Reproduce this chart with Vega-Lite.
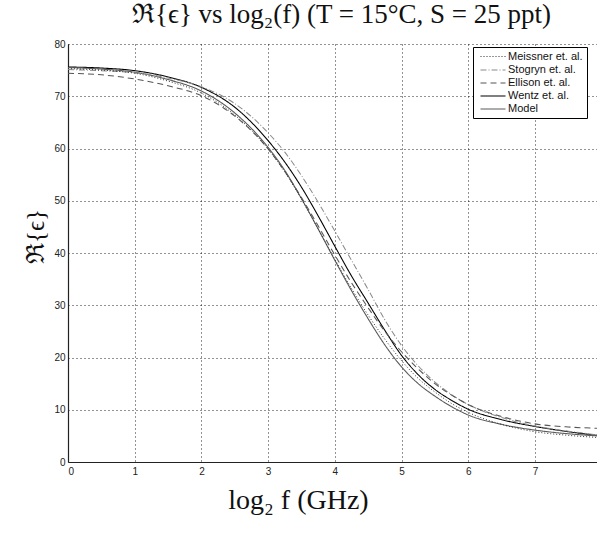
{
  "$schema": "https://vega.github.io/schema/vega-lite/v6.json",
  "autosize": {"type": "none"},
  "padding": {"left": 68, "top": 44, "right": 0, "bottom": 72},
  "width": 529,
  "height": 418,
  "background": "white",
  "title": {
    "text": "ℜ{ϵ} vs log₂(f) (T = 15°C, S = 25 ppt)",
    "font": "Liberation Serif",
    "fontSize": 27,
    "fontWeight": "normal",
    "color": "#111",
    "anchor": "middle",
    "offset": 10,
    "dx": 9
  },
  "config": {
    "view": {"stroke": null},
    "axis": {
      "labelFont": "Liberation Sans",
      "labelFontSize": 10,
      "labelColor": "#222",
      "ticks": false,
      "domainColor": "#222",
      "domainWidth": 1.2,
      "grid": true,
      "gridColor": "#000",
      "gridDash": [1, 3],
      "gridWidth": 1,
      "gridOpacity": 0.85,
      "titleFont": "Liberation Serif",
      "titleFontWeight": "normal",
      "titleColor": "#111"
    }
  },
  "data": {
    "values": [
      {"x": 0, "y": 75.6, "s": "Wentz et. al."},
      {"x": 0.5, "y": 75.4, "s": "Wentz et. al."},
      {"x": 1, "y": 74.9, "s": "Wentz et. al."},
      {"x": 1.5, "y": 73.7, "s": "Wentz et. al."},
      {"x": 2, "y": 71.7, "s": "Wentz et. al."},
      {"x": 2.5, "y": 67.9, "s": "Wentz et. al."},
      {"x": 3, "y": 61.5, "s": "Wentz et. al."},
      {"x": 3.25, "y": 57.4, "s": "Wentz et. al."},
      {"x": 3.5, "y": 52.6, "s": "Wentz et. al."},
      {"x": 3.75, "y": 47.1, "s": "Wentz et. al."},
      {"x": 4, "y": 41.3, "s": "Wentz et. al."},
      {"x": 4.25, "y": 35.6, "s": "Wentz et. al."},
      {"x": 4.5, "y": 30.4, "s": "Wentz et. al."},
      {"x": 4.75, "y": 25.2, "s": "Wentz et. al."},
      {"x": 5, "y": 20.4, "s": "Wentz et. al."},
      {"x": 5.25, "y": 16.7, "s": "Wentz et. al."},
      {"x": 5.5, "y": 13.9, "s": "Wentz et. al."},
      {"x": 5.75, "y": 11.8, "s": "Wentz et. al."},
      {"x": 6, "y": 10.1, "s": "Wentz et. al."},
      {"x": 6.5, "y": 8.1, "s": "Wentz et. al."},
      {"x": 7, "y": 6.8, "s": "Wentz et. al."},
      {"x": 7.5, "y": 5.8, "s": "Wentz et. al."},
      {"x": 7.93, "y": 5.1, "s": "Wentz et. al."},

      {"x": 0, "y": 75.5, "s": "Model"},
      {"x": 0.5, "y": 75.2, "s": "Model"},
      {"x": 1, "y": 74.6, "s": "Model"},
      {"x": 1.5, "y": 73.2, "s": "Model"},
      {"x": 2, "y": 71.0, "s": "Model"},
      {"x": 2.5, "y": 66.8, "s": "Model"},
      {"x": 3, "y": 60.2, "s": "Model"},
      {"x": 3.25, "y": 55.8, "s": "Model"},
      {"x": 3.5, "y": 50.4, "s": "Model"},
      {"x": 3.75, "y": 44.6, "s": "Model"},
      {"x": 4, "y": 38.6, "s": "Model"},
      {"x": 4.25, "y": 32.8, "s": "Model"},
      {"x": 4.5, "y": 27.4, "s": "Model"},
      {"x": 4.75, "y": 22.4, "s": "Model"},
      {"x": 5, "y": 18.2, "s": "Model"},
      {"x": 5.25, "y": 15.0, "s": "Model"},
      {"x": 5.5, "y": 12.6, "s": "Model"},
      {"x": 5.75, "y": 10.6, "s": "Model"},
      {"x": 6, "y": 9.0, "s": "Model"},
      {"x": 6.5, "y": 7.2, "s": "Model"},
      {"x": 7, "y": 6.1, "s": "Model"},
      {"x": 7.5, "y": 5.4, "s": "Model"},
      {"x": 7.93, "y": 5.0, "s": "Model"},

      {"x": 0, "y": 75.1, "s": "Stogryn et. al."},
      {"x": 0.5, "y": 74.9, "s": "Stogryn et. al."},
      {"x": 1, "y": 74.5, "s": "Stogryn et. al."},
      {"x": 1.5, "y": 73.5, "s": "Stogryn et. al."},
      {"x": 2, "y": 71.8, "s": "Stogryn et. al."},
      {"x": 2.5, "y": 68.6, "s": "Stogryn et. al."},
      {"x": 3, "y": 63.0, "s": "Stogryn et. al."},
      {"x": 3.25, "y": 59.3, "s": "Stogryn et. al."},
      {"x": 3.5, "y": 54.8, "s": "Stogryn et. al."},
      {"x": 3.75, "y": 49.7, "s": "Stogryn et. al."},
      {"x": 4, "y": 44.2, "s": "Stogryn et. al."},
      {"x": 4.25, "y": 38.6, "s": "Stogryn et. al."},
      {"x": 4.5, "y": 33.0, "s": "Stogryn et. al."},
      {"x": 4.75, "y": 27.2, "s": "Stogryn et. al."},
      {"x": 5, "y": 22.3, "s": "Stogryn et. al."},
      {"x": 5.25, "y": 18.4, "s": "Stogryn et. al."},
      {"x": 5.5, "y": 15.3, "s": "Stogryn et. al."},
      {"x": 5.75, "y": 12.9, "s": "Stogryn et. al."},
      {"x": 6, "y": 11.0, "s": "Stogryn et. al."},
      {"x": 6.5, "y": 8.5, "s": "Stogryn et. al."},
      {"x": 7, "y": 6.9, "s": "Stogryn et. al."},
      {"x": 7.5, "y": 5.9, "s": "Stogryn et. al."},
      {"x": 7.93, "y": 5.2, "s": "Stogryn et. al."},

      {"x": 0, "y": 74.4, "s": "Ellison et. al."},
      {"x": 0.5, "y": 74.1, "s": "Ellison et. al."},
      {"x": 1, "y": 73.3, "s": "Ellison et. al."},
      {"x": 1.5, "y": 72.0, "s": "Ellison et. al."},
      {"x": 2, "y": 70.1, "s": "Ellison et. al."},
      {"x": 2.5, "y": 66.2, "s": "Ellison et. al."},
      {"x": 3, "y": 59.9, "s": "Ellison et. al."},
      {"x": 3.25, "y": 55.6, "s": "Ellison et. al."},
      {"x": 3.5, "y": 50.6, "s": "Ellison et. al."},
      {"x": 3.75, "y": 45.2, "s": "Ellison et. al."},
      {"x": 4, "y": 39.6, "s": "Ellison et. al."},
      {"x": 4.25, "y": 34.3, "s": "Ellison et. al."},
      {"x": 4.5, "y": 29.5, "s": "Ellison et. al."},
      {"x": 4.75, "y": 25.0, "s": "Ellison et. al."},
      {"x": 5, "y": 21.1, "s": "Ellison et. al."},
      {"x": 5.25, "y": 17.8, "s": "Ellison et. al."},
      {"x": 5.5, "y": 15.0, "s": "Ellison et. al."},
      {"x": 5.75, "y": 12.8, "s": "Ellison et. al."},
      {"x": 6, "y": 11.0, "s": "Ellison et. al."},
      {"x": 6.5, "y": 8.7, "s": "Ellison et. al."},
      {"x": 7, "y": 7.3, "s": "Ellison et. al."},
      {"x": 7.5, "y": 6.7, "s": "Ellison et. al."},
      {"x": 7.93, "y": 6.45, "s": "Ellison et. al."},

      {"x": 0, "y": 75.3, "s": "Meissner et. al."},
      {"x": 0.5, "y": 75.0, "s": "Meissner et. al."},
      {"x": 1, "y": 74.4, "s": "Meissner et. al."},
      {"x": 1.5, "y": 72.9, "s": "Meissner et. al."},
      {"x": 2, "y": 70.6, "s": "Meissner et. al."},
      {"x": 2.5, "y": 66.4, "s": "Meissner et. al."},
      {"x": 3, "y": 59.9, "s": "Meissner et. al."},
      {"x": 3.25, "y": 55.5, "s": "Meissner et. al."},
      {"x": 3.5, "y": 50.3, "s": "Meissner et. al."},
      {"x": 3.75, "y": 44.6, "s": "Meissner et. al."},
      {"x": 4, "y": 38.8, "s": "Meissner et. al."},
      {"x": 4.25, "y": 33.2, "s": "Meissner et. al."},
      {"x": 4.5, "y": 28.1, "s": "Meissner et. al."},
      {"x": 4.75, "y": 23.5, "s": "Meissner et. al."},
      {"x": 5, "y": 19.4, "s": "Meissner et. al."},
      {"x": 5.25, "y": 16.0, "s": "Meissner et. al."},
      {"x": 5.5, "y": 13.4, "s": "Meissner et. al."},
      {"x": 5.75, "y": 11.2, "s": "Meissner et. al."},
      {"x": 6, "y": 9.5, "s": "Meissner et. al."},
      {"x": 6.5, "y": 7.2, "s": "Meissner et. al."},
      {"x": 7, "y": 5.8, "s": "Meissner et. al."},
      {"x": 7.5, "y": 5.1, "s": "Meissner et. al."},
      {"x": 7.93, "y": 4.7, "s": "Meissner et. al."}
    ]
  },
  "mark": {"type": "line", "interpolate": "monotone", "clip": true},
  "encoding": {
    "x": {
      "field": "x",
      "type": "quantitative",
      "scale": {"domain": [0, 7.93], "nice": false, "zero": false},
      "axis": {
        "values": [0, 1, 2, 3, 4, 5, 6, 7],
        "labelPadding": 4,
        "title": "log₂ f  (GHz)",
        "titleFontSize": 28,
        "titleX": 230,
        "titleY": 38,
        "titleAlign": "center",
        "titleBaseline": "middle"
      }
    },
    "y": {
      "field": "y",
      "type": "quantitative",
      "scale": {"domain": [0, 80], "nice": false},
      "axis": {
        "values": [0, 10, 20, 30, 40, 50, 60, 70, 80],
        "labelPadding": 3,
        "title": "ℜ{ϵ}",
        "titleFontSize": 25,
        "titleAngle": -90,
        "titleX": -33,
        "titleY": 192,
        "titleAlign": "center",
        "titleBaseline": "middle"
      }
    },
    "color": {
      "field": "s",
      "type": "nominal",
      "scale": {
        "domain": ["Meissner et. al.", "Stogryn et. al.", "Ellison et. al.", "Wentz et. al.", "Model"],
        "range": ["#333333", "#8a8a8a", "#555555", "#000000", "#5a5a5a"]
      },
      "legend": {
        "title": null,
        "orient": "none",
        "legendX": 405,
        "legendY": 3,
        "fillColor": "white",
        "strokeColor": "#000",
        "padding": 4,
        "cornerRadius": 0,
        "symbolType": "M-2.5,0H2.5",
        "symbolSize": 100,
        "symbolOffset": 10,
        "symbolStrokeWidth": 1.3,
        "labelFont": "Liberation Sans",
        "labelFontSize": 11,
        "labelColor": "#111",
        "rowPadding": 2,
        "labelOffset": 9
      }
    },
    "strokeDash": {
      "field": "s",
      "type": "nominal",
      "scale": {
        "domain": ["Meissner et. al.", "Stogryn et. al.", "Ellison et. al.", "Wentz et. al.", "Model"],
        "range": [[1, 2], [6, 2, 1, 2], [6, 4], [1, 0], [1, 0]]
      },
      "legend": {
        "title": null,
        "orient": "none",
        "legendX": 405,
        "legendY": 3,
        "fillColor": "white",
        "strokeColor": "#000",
        "padding": 4,
        "cornerRadius": 0,
        "symbolType": "M-2.5,0H2.5",
        "symbolSize": 100,
        "symbolOffset": 10,
        "symbolStrokeWidth": 1.3,
        "labelFont": "Liberation Sans",
        "labelFontSize": 11,
        "labelColor": "#111",
        "rowPadding": 2,
        "labelOffset": 9
      }
    },
    "strokeWidth": {
      "field": "s",
      "type": "nominal",
      "scale": {
        "domain": ["Meissner et. al.", "Stogryn et. al.", "Ellison et. al.", "Wentz et. al.", "Model"],
        "range": [1, 1.1, 1.2, 2, 1.6]
      },
      "legend": null
    }
  }
}
